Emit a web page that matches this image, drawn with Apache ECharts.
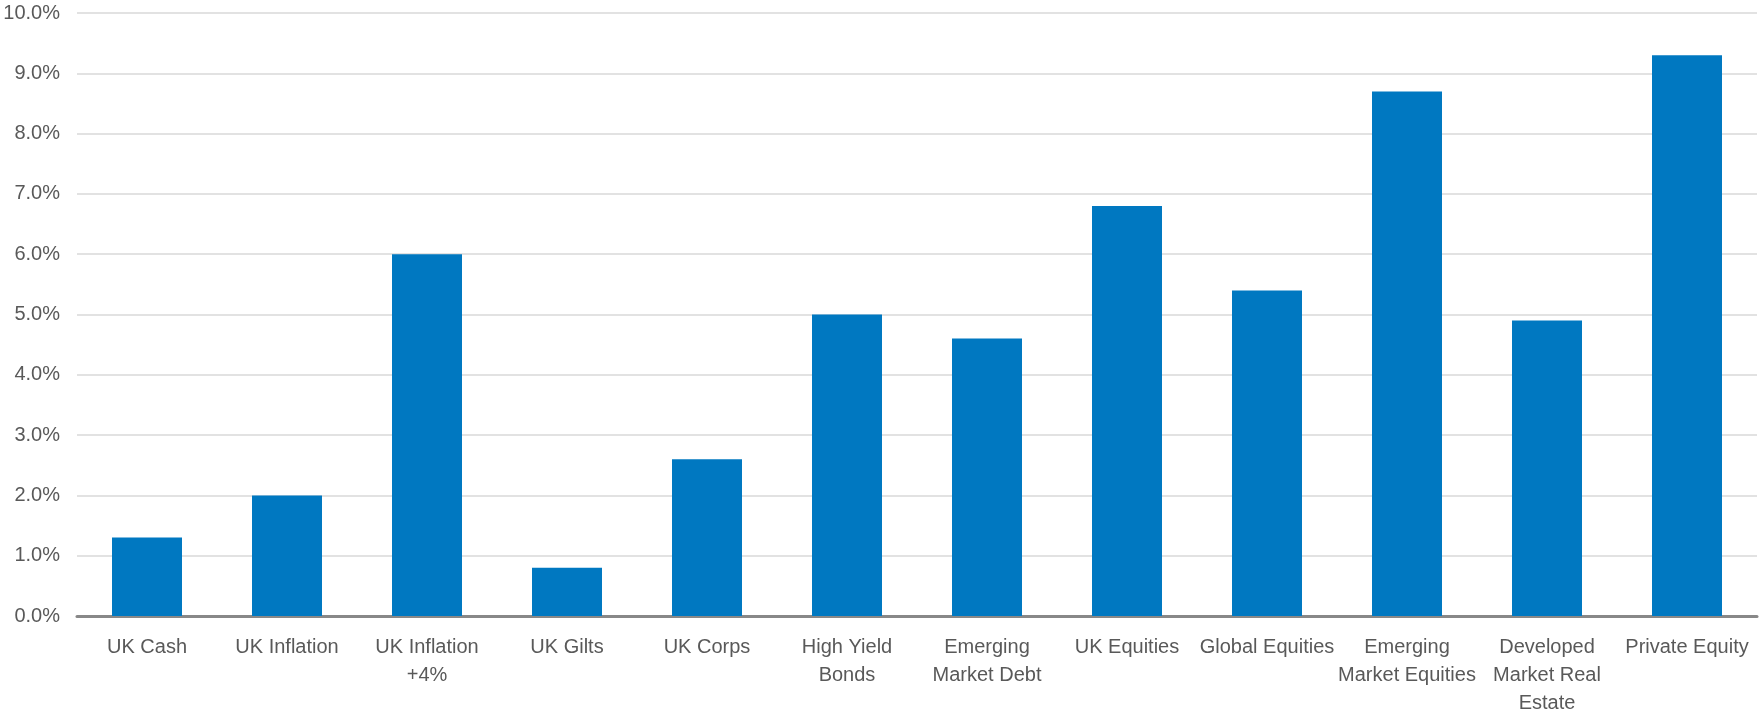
<!DOCTYPE html>
<html>
<head>
<meta charset="utf-8">
<script src="https://cdn.jsdelivr.net/npm/echarts@6/dist/echarts.min.js"></script>
<style>html,body{margin:0;padding:0;background:#fff;}#c{width:1760px;height:717px;}</style>
</head>
<body>
<div id="c"></div>
<script>
const categories = ["UK Cash","UK Inflation","UK Inflation\n+4%","UK Gilts","UK Corps","High Yield\nBonds","Emerging\nMarket Debt","UK Equities","Global Equities","Emerging\nMarket Equities","Developed\nMarket Real\nEstate","Private Equity"];
const values = [1.3, 2.0, 6.0, 0.8, 2.6, 5.0, 4.6, 6.8, 5.4, 8.7, 4.9, 9.3];

const chart = echarts.init(document.getElementById('c'), null, {renderer:'canvas'});
chart.setOption({
  animation:false,
  grid:{left:77, right:3, top:13, bottom:100, containLabel:false},
  xAxis:{
    type:'category', data:categories,
    axisTick:{show:false},
    axisLine:{lineStyle:{color:'#888888', width:3}},
    axisLabel:{interval:0, color:'#595959', fontFamily:'Liberation Sans, Arial, sans-serif', fontSize:20, lineHeight:28, margin:17}
  },
  yAxis:{
    type:'value', min:0, max:10, interval:1,
    axisLine:{show:false}, axisTick:{show:false},
    splitLine:{lineStyle:{color:'#d9d9d9', width:1.5}},
    axisLabel:{color:'#595959', fontFamily:'Liberation Sans, Arial, sans-serif', fontSize:20, margin:17,
      formatter:v=>v.toFixed(1)+'%'}
  },
  series:[{type:'bar', data:values, barWidth:'50%', itemStyle:{color:'#0078C1'}}]
});
</script>
</body>
</html>
